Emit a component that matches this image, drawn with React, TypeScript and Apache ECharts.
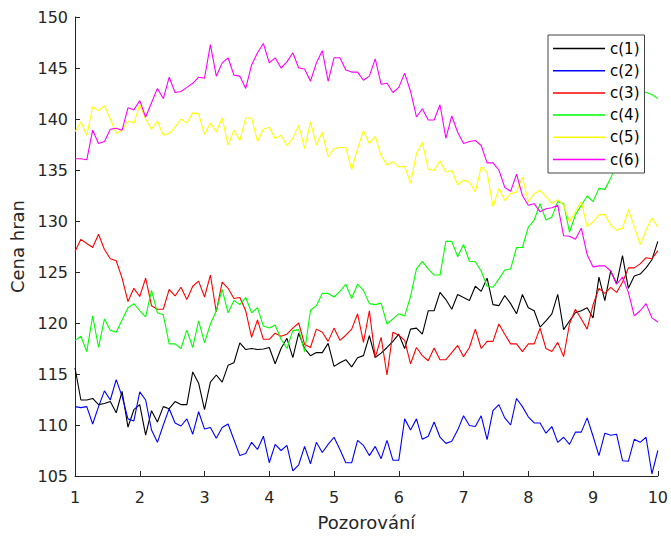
import React, { useEffect, useRef } from "react";
import * as echarts from "echarts";

const seriesNames = ["c(1)", "c(2)", "c(3)", "c(4)", "c(5)", "c(6)"];
const seriesColors = ["#000000", "#0000ff", "#ff0000", "#00ff00", "#ffff00", "#ff00ff"];

const c1 = [
  115.6, 112.45, 112.45, 112.6, 112.0, 112.1, 112.3, 111.2, 113.3, 109.8,
  111.5, 112.0, 109.0, 111.4, 110.3, 111.8, 111.6, 112.3, 112.0, 112.0,
  115.2, 114.1, 111.5, 114.2, 114.9, 114.2, 115.85, 116.1, 118.05, 117.4,
  117.5, 117.4, 117.45, 117.6, 116.0, 117.5, 118.5, 116.6, 119.0, 117.5,
  116.8, 117.1, 117.1, 118.0, 115.75, 116.1, 116.4, 115.7, 116.6, 116.8,
  118.75, 116.6, 117.05, 117.6, 118.2, 118.9, 117.5, 119.4, 119.5, 118.9,
  121.2, 121.2, 123.0, 122.3, 121.35, 122.8, 122.5, 122.2, 123.6, 123.1,
  124.4, 121.8, 121.7, 122.7, 121.9, 120.9, 122.8, 121.5, 121.2, 119.6,
  120.2, 120.9, 122.8, 119.35, 120.2, 121.0, 121.2, 121.5, 120.5, 124.5,
  122.2, 125.1, 123.85, 126.6, 123.4, 124.6, 124.8, 125.4, 126.2, 128.0,
];
const c2 = [
  111.8, 111.7, 111.8, 110.1, 111.8, 113.35, 112.45, 114.45, 112.8, 110.6,
  110.4, 113.25, 112.45, 109.5, 108.3, 110.0, 111.6, 110.2, 109.9, 110.6,
  109.1, 111.3, 109.6, 109.76, 108.7, 109.76, 110.1, 108.56, 107.0, 107.2,
  108.3, 107.6, 108.9, 106.3, 108.1, 107.5, 108.0, 105.5, 106.1, 107.9,
  106.2, 108.3, 107.3, 108.1, 108.8, 107.6, 106.3, 106.3, 108.5, 108.0,
  107.0, 107.9, 106.7, 108.5, 106.55, 106.55, 110.6, 109.5, 110.6, 108.6,
  108.9, 110.3, 108.8, 108.2, 108.4, 109.5, 110.9, 109.95, 109.85, 110.9,
  108.56, 111.4, 112.0, 110.7, 110.0, 112.6, 111.8, 110.8, 110.2, 110.2,
  109.2, 109.85, 108.3, 108.8, 108.1, 109.3, 109.3, 110.7, 108.9, 107.0,
  109.2, 109.0, 109.1, 106.5, 106.45, 108.6, 108.3, 108.8, 105.2, 107.5,
];
const c3 = [
  127.0, 128.2, 127.8, 127.4, 128.7, 127.2, 126.3, 126.1, 124.4, 122.1,
  123.4, 122.6, 124.4, 121.7, 121.35, 121.35, 123.3, 122.65, 123.5, 122.3,
  123.6, 124.1, 122.55, 124.7, 121.1, 124.0, 123.4, 122.4, 122.5, 121.2,
  118.6, 120.3, 118.4, 118.4, 119.0, 118.7, 118.9, 119.5, 120.0, 117.9,
  117.6, 119.4, 119.1, 118.2, 119.5, 118.3, 118.8, 119.4, 120.9, 118.1,
  121.2, 116.6, 118.6, 114.9, 119.1, 118.8, 118.3, 116.0, 117.6, 116.8,
  116.3, 117.55, 116.4, 116.4, 117.1, 117.8, 116.7, 117.6, 119.4, 117.5,
  118.2, 118.2, 119.9, 118.9, 117.95, 117.95, 117.2, 117.95, 117.95, 119.5,
  117.5, 117.2, 118.1, 116.7, 119.9, 121.35, 120.4, 119.4, 121.8, 123.4,
  122.9, 123.5, 123.0, 124.0, 125.4, 125.4, 125.8, 126.4, 126.3, 127.1,
];
const c4 = [
  118.3, 118.7, 117.2, 120.7, 117.6, 120.4, 119.3, 119.1, 120.3, 121.5,
  121.9, 121.2, 120.6, 123.2, 121.0, 120.8, 117.95, 117.95, 117.5, 119.3,
  117.6, 120.2, 118.05, 119.9, 121.2, 123.3, 121.0, 122.2, 121.8, 122.5,
  121.0, 121.5, 119.7, 119.5, 119.8, 118.4, 117.5, 119.25, 119.35, 117.2,
  121.25, 121.7, 122.9, 122.9, 122.55, 123.1, 123.8, 122.4, 123.8, 123.2,
  121.9, 121.8, 121.95, 119.9, 120.4, 120.9, 120.7, 122.6, 125.3, 126.05,
  125.3, 124.7, 124.7, 128.0, 128.0, 126.5, 127.7, 126.05, 126.0, 125.1,
  123.6, 123.5, 124.3, 125.2, 125.3, 127.4, 127.4, 129.4, 130.1, 131.7,
  130.1, 130.4, 131.9, 131.7, 128.9, 130.6, 131.55, 132.45, 131.9, 133.2,
  133.1, 134.2, 135.6, 137.5, 139.5, 141.3, 142.8, 142.6, 142.4, 142.0,
];
const c5 = [
  138.75, 139.7, 138.4, 141.2, 140.8, 141.3, 140.0, 138.6, 138.9, 139.8,
  139.6, 141.4, 140.0, 139.0, 139.8, 138.4, 138.6, 139.2, 140.0, 139.6,
  140.6, 140.5, 138.5, 139.6, 138.75, 140.1, 137.45, 138.9, 137.9, 140.1,
  140.1, 137.8, 139.0, 139.2, 138.1, 138.4, 137.4, 138.1, 139.4, 137.1,
  139.7, 137.45, 138.7, 136.3, 137.1, 137.2, 137.2, 135.05, 137.1, 138.85,
  137.6, 138.3, 136.4, 135.5, 135.8, 135.3, 135.35, 133.7, 136.6, 137.7,
  135.1, 134.95, 135.9, 134.8, 134.95, 133.55, 134.0, 133.8, 132.85, 135.3,
  134.8, 131.4, 133.2, 132.0, 132.7, 132.85, 134.3, 131.9, 132.7, 133.0,
  132.4, 131.7, 132.1, 131.55, 129.9, 130.9, 131.9, 129.45, 129.9, 130.6,
  130.65, 129.6, 129.1, 129.3, 131.1, 129.45, 127.7, 129.1, 130.3, 129.4,
];
const c6 = [
  136.1, 136.1, 136.0, 138.9, 137.6, 137.8, 139.0, 139.1, 138.9, 141.1,
  140.9, 141.8, 140.2, 141.6, 143.0, 142.0, 144.1, 142.6, 142.7, 143.1,
  143.5, 144.1, 144.0, 147.3, 144.2, 145.5, 146.0, 144.3, 144.2, 143.0,
  145.3, 146.5, 147.4, 145.5, 146.0, 145.0, 145.6, 146.5, 145.0, 144.9,
  143.7, 145.5, 146.7, 143.7, 146.0, 146.0, 144.8, 144.6, 144.6, 143.8,
  144.2, 145.9, 143.4, 143.5, 142.6, 143.1, 144.5, 142.7, 140.2, 141.0,
  139.9, 139.9, 141.4, 138.1, 140.3, 138.7, 137.6, 137.8, 137.9, 137.4,
  135.7, 135.7, 135.0, 133.3, 132.9, 134.6, 132.5, 131.55, 131.7, 130.9,
  131.2, 131.3, 131.55, 128.55, 128.5, 128.2, 129.3, 126.7, 125.5, 125.6,
  125.6, 125.1, 123.8, 124.5, 123.0, 120.7, 121.2, 121.9, 120.5, 120.1,
];

const allSeries = [c1, c2, c3, c4, c5, c6];

const xMin = 1;
const xMax = 10;
const yMin = 105;
const yMax = 150;

const FONT = "DejaVu Sans";
const AXIS_COLOR = "#262626";

export default function App() {
  const ref = useRef<HTMLDivElement>(null);

  useEffect(() => {
    document.body.style.margin = "0";
    if (!ref.current) return;
    const chart = echarts.init(ref.current, null, { renderer: "svg" });

    const toPairs = (arr: number[]) =>
      arr.map((v, i) => [xMin + ((xMax - xMin) * i) / (arr.length - 1), v]);

    chart.setOption({
      animation: false,
      backgroundColor: "#ffffff",
      textStyle: { fontFamily: FONT },
      grid: { left: 75, right: 10, top: 17, bottom: 56, containLabel: false },
      legend: {
        orient: "vertical",
        left: 548,
        top: 35,
        padding: [6, 5, 6, 5],
        itemGap: 7.2,
        itemWidth: 52,
        itemHeight: 1.5,
        icon: "rect",
        backgroundColor: "#ffffff",
        borderColor: "#444444",
        borderWidth: 1,
        borderRadius: 0,
        selectedMode: false,
        textStyle: { fontSize: 15, lineHeight: 15, color: "#000000", fontFamily: FONT },
        data: seriesNames,
      },
      xAxis: {
        type: "value",
        min: xMin,
        max: xMax,
        interval: 1,
        name: "Pozorování",
        nameLocation: "middle",
        nameGap: 37,
        nameTextStyle: { fontSize: 18, color: AXIS_COLOR, fontFamily: FONT },
        axisLine: { show: true, onZero: false, lineStyle: { color: AXIS_COLOR, width: 1 } },
        axisTick: { show: true, inside: true, length: 5, lineStyle: { color: AXIS_COLOR, width: 1 } },
        axisLabel: { fontSize: 16, color: AXIS_COLOR, margin: 13, fontFamily: FONT },
        splitLine: { show: false },
      },
      yAxis: {
        type: "value",
        min: yMin,
        max: yMax,
        interval: 5,
        name: "Cena hran",
        nameLocation: "middle",
        nameGap: 46,
        nameTextStyle: { fontSize: 18, color: AXIS_COLOR, fontFamily: FONT },
        axisLine: { show: true, onZero: false, lineStyle: { color: AXIS_COLOR, width: 1 } },
        axisTick: { show: true, inside: true, length: 5, lineStyle: { color: AXIS_COLOR, width: 1 } },
        axisLabel: { fontSize: 16, color: AXIS_COLOR, margin: 7, fontFamily: FONT },
        splitLine: { show: false },
      },
      series: allSeries.map((arr, k) => ({
        name: seriesNames[k],
        type: "line",
        data: toPairs(arr),
        symbol: "none",
        showSymbol: false,
        color: seriesColors[k],
        itemStyle: { color: seriesColors[k] },
        lineStyle: { color: seriesColors[k], width: 1.1 },
        emphasis: { disabled: true },
        z: 2,
      })),
    });

    return () => chart.dispose();
  }, []);

  return <div ref={ref} style={{ width: 671, height: 536 }} />;
}
